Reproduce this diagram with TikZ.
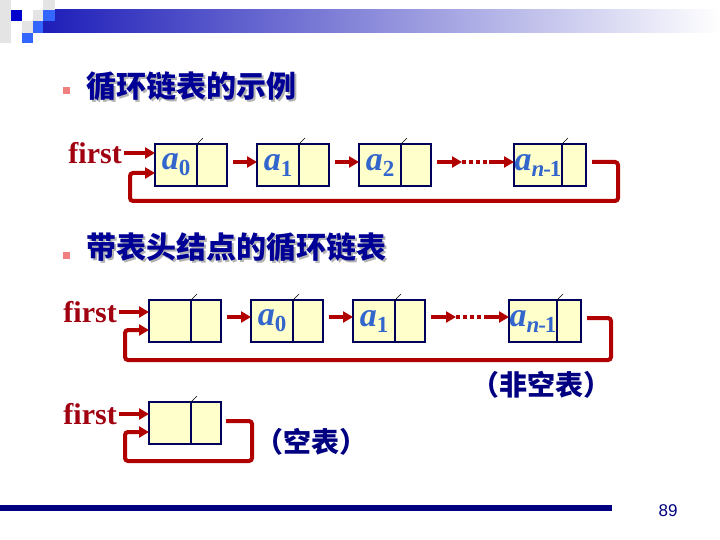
\documentclass[tikz,border=0pt]{standalone}
\usepackage{fontspec}
\setmainfont{Liberation Serif}
\newfontfamily\cjk{Noto Sans CJK SC}
\newfontfamily\numfont{Liberation Sans}
\usetikzlibrary{positioning,arrows.meta}

\definecolor{linkred}{RGB}{176,0,0}
\definecolor{firstred}{RGB}{160,0,16}
\definecolor{elemblue}{RGB}{51,102,204}
\definecolor{boxline}{RGB}{0,0,90}
\definecolor{boxfill}{RGB}{255,255,204}
\definecolor{titlenavy}{RGB}{0,0,150}
\definecolor{barnavy}{RGB}{0,0,128}
\definecolor{bulletpink}{RGB}{240,128,128}
\definecolor{headblue}{RGB}{30,30,185}
\definecolor{squareblue}{RGB}{51,102,255}
\definecolor{squaregray}{RGB}{228,228,228}

% element label a_i inside a data cell
\newcommand\elem[1]{\makebox[0pt]{{\fontsize{34}{34}\selectfont\bfseries\itshape a}\raisebox{-6pt}{\fontsize{23}{23}\selectfont\bfseries #1}}}
% title text with grey drop shadow
\newcommand\shadowed[1]{\makebox[0pt][l]{\hspace{2pt}\raisebox{-2pt}{\color{gray!60}#1}}#1}

\begin{document}
\begin{tikzpicture}[x=1pt,y=-1pt,
  cell/.style={draw=boxline,line width=1.2pt,fill=boxfill,minimum height=42pt,inner sep=0pt,outer sep=0pt},
  data/.style={cell,minimum width=42pt,text=elemblue},
  ptr/.style={cell,minimum width=30pt},
  link/.style={linkred,line width=4pt,-{Triangle[length=10pt,width=11pt]}},
  dots/.style={linkred,line width=4pt,dash pattern=on 4pt off 3pt},
  slash/.style={black,line width=0.6pt},
  firstlbl/.style={text=firstred,font=\bfseries\fontsize{30}{30}\selectfont,inner sep=0pt,anchor=east},
  heading/.style={text=titlenavy,font=\cjk\bfseries\fontsize{30}{30}\selectfont,inner sep=0pt,anchor=west},
  remark/.style={text=barnavy,font=\cjk\bfseries\fontsize{28}{28}\selectfont,inner sep=0pt}]
\useasboundingbox (0,0) rectangle (720,540);

% Header bar
\shade[left color=headblue,right color=white] (43,10) rectangle (720,33);
\fill[squaregray] (0,0) rectangle (11,43);
\fill[squaregray] (22,21) rectangle (33,33);
\fill[squaregray] (33,10) rectangle (43,21);
\fill[squaregray] (43,0) rectangle (55,10);
\fill[blue!80!black] (11,10) rectangle (22,21);
\fill[squareblue] (43,10) rectangle (55,21);
\fill[squareblue] (33,21) rectangle (43,33);
\fill[squareblue] (22,33) rectangle (33,43);

% Titles
\fill[bulletpink] (63,87) rectangle (70,94);
\node[heading] (t1) at (86,87) {\shadowed{循环链表的示例}};
\fill[bulletpink] (63,252) rectangle (70,259);
\node[heading] (t2) at (86,248) {\shadowed{带表头结点的循环链表}};

% Circular list
\node[firstlbl] (f1) at (122,153) {first};
\node[data] (a0) at (176,165) {\elem{0}};
\node[ptr,right=0pt of a0] (a0l) {};
\node[data,right=30pt of a0l] (a1) {\elem{1}};
\node[ptr,right=0pt of a1] (a1l) {};
\node[data,right=30pt of a1l] (a2) {\elem{2}};
\node[ptr,right=0pt of a2] (a2l) {};
\node[data,minimum width=48pt,right=83pt of a2l] (an) {\elem{{\itshape n}\kern-1pt-\kern-1pt1}};
\node[ptr,minimum width=24pt,right=0pt of an] (anl) {};

\draw[link] ([xshift=2pt]f1.east) -- (f1.east -| a0.west);
\draw[link,shorten <=6pt] ([yshift=3pt]a0l.east) -- ([yshift=3pt]a1.west);
\draw[link,shorten <=6pt] ([yshift=3pt]a1l.east) -- ([yshift=3pt]a2.west);
\draw[link,shorten >=52pt] ([xshift=6pt,yshift=3pt]a2l.east) -- ([yshift=3pt]an.west);
\draw[dots] ([xshift=31pt,yshift=3pt]a2l.east) -- ([xshift=-25pt,yshift=3pt]an.west);
\draw[link,shorten <=52pt] ([xshift=6pt,yshift=3pt]a2l.east) -- ([yshift=3pt]an.west);
\coordinate (back1) at (618,201);
\coordinate (in1) at (130,173);
\draw[link,rounded corners=3pt] ([xshift=6pt,yshift=3pt]anl.east) -| (back1) -| (in1) -- (in1 -| a0.west);

% Circular list with head node
\node[firstlbl] (f2) at (117,312) {first};
\node[data] (h) at (170,321) {};
\node[ptr,right=0pt of h] (hl) {};
\node[data,right=30pt of hl] (b0) {\elem{0}};
\node[ptr,right=0pt of b0] (b0l) {};
\node[data,right=30pt of b0l] (b1) {\elem{1}};
\node[ptr,right=0pt of b1] (b1l) {};
\node[data,minimum width=48pt,right=84pt of b1l] (bn) {\elem{{\itshape n}\kern-1pt-\kern-1pt1}};
\node[ptr,minimum width=24pt,right=0pt of bn] (bnl) {};

\draw[link] ([xshift=2pt]f2.east) -- (f2.east -| h.west);
\draw[link,shorten <=6pt] ([yshift=4pt]hl.east) -- ([yshift=4pt]b0.west);
\draw[link,shorten <=6pt] ([yshift=4pt]b0l.east) -- ([yshift=4pt]b1.west);
\draw[link,shorten >=53pt] ([xshift=6pt,yshift=4pt]b1l.east) -- ([yshift=4pt]bn.west);
\draw[dots] ([xshift=31pt,yshift=4pt]b1l.east) -- ([xshift=-25pt,yshift=4pt]bn.west);
\draw[link,shorten <=53pt] ([xshift=6pt,yshift=4pt]b1l.east) -- ([yshift=4pt]bn.west);
\coordinate (back2) at (611,360);
\coordinate (in2) at (125,330);
\draw[link,rounded corners=3pt] ([xshift=6pt,yshift=3pt]bnl.east) -| (back2) -| (in2) -- (in2 -| h.west);
\node[remark] (full) at (541,385) {（非空表）};

% Empty list
\node[firstlbl] (f3) at (117,414) {first};
\node[data] (e) at (170,423) {};
\node[ptr,right=0pt of e] (el) {};
\draw[link] ([xshift=2pt]f3.east) -- (f3.east -| e.west);
\coordinate (back3) at (252,461);
\coordinate (in3) at (125,432);
\draw[link,rounded corners=3pt] ([xshift=5pt,yshift=2pt]el.east) -| (back3) -| (in3) -- (in3 -| e.west);
\node[remark] (empty) at (311,442) {（空表）};

% Slash marks on pointer cells
\foreach \p in {a0l,a1l,a2l,anl,hl,b0l,b1l,bnl,el}
  \draw[slash] (\p.north west) -- ++(6,-6);

% Footer
\fill[barnavy] (0,505) rectangle (612,511);
\node[text=barnavy,font=\numfont\fontsize{17}{17}\selectfont,inner sep=0pt] (page) at (668,511) {89};
\end{tikzpicture}
\end{document}
